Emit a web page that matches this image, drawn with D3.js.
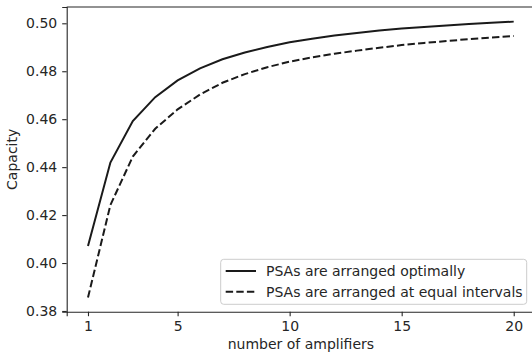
<!DOCTYPE html>
<html>
<head>
<meta charset="utf-8">
<script src="https://cdn.jsdelivr.net/npm/d3@7"></script>
<style>
  body { margin: 0; background: #fff; }
  svg text { font-family: "DejaVu Sans", sans-serif; fill: #262626; }
</style>
</head>
<body>
<div id="chart"></div>
<script>
// number of amplifiers
var amplifiers = d3.range(1, 21);
// capacity, PSAs arranged optimally
var optimal = [0.4071, 0.4419, 0.4592, 0.4692, 0.4762, 0.4812, 0.4850, 0.4878, 0.4901, 0.4921,
               0.4936, 0.4949, 0.4960, 0.4970, 0.4978, 0.4985, 0.4991, 0.4997, 0.5002, 0.5007];
// capacity, PSAs arranged at equal intervals
var equal = [0.3856, 0.4242, 0.4444, 0.4560, 0.4641, 0.4703, 0.4752, 0.4788, 0.4817, 0.4840,
             0.4858, 0.4873, 0.4886, 0.4898, 0.4909, 0.4918, 0.4926, 0.4934, 0.4941, 0.4947];
var xTicks = [1, 5, 10, 15, 20];
var yTicks = [0.38, 0.40, 0.42, 0.44, 0.46, 0.48, 0.50];
var legendLabels = ["PSAs are arranged optimally", "PSAs are arranged at equal intervals"];

var W = 532, H = 356;
var mLeft = 66.7, mTop = 7, mRight = 535, mBottom = 311.7;
var fontSize = 14;

var svg = d3.select("#chart").append("svg")
    .attr("width", W)
    .attr("height", H);

var x = d3.scaleLinear().domain([0.05, 20.95]).range([mLeft, mRight]);
var y = d3.scaleLinear().domain([0.3797, 0.5068]).range([mBottom, mTop]);

// axes
var xAxis = svg.append("g")
    .attr("transform", "translate(0," + mBottom + ")")
    .call(d3.axisBottom(x).tickValues(xTicks).tickSize(4.5).tickPadding(5).tickFormat(d3.format("d")));
var yAxis = svg.append("g")
    .attr("transform", "translate(" + mLeft + ",0)")
    .call(d3.axisLeft(y).tickValues(yTicks).tickSize(4.5).tickPadding(5).tickFormat(d3.format(".2f")));

[xAxis, yAxis].forEach(function(a) {
    a.attr("font-family", null).attr("font-size", null);
    a.select(".domain").attr("stroke", "#262626").attr("stroke-width", 1.1);
    a.selectAll(".tick line").attr("stroke", "#262626").attr("stroke-width", 1.1);
    a.selectAll(".tick text").style("font-size", fontSize + "px").attr("fill", "#262626");
});

// top spine
svg.append("line")
    .attr("x1", mLeft).attr("x2", mRight)
    .attr("y1", mTop).attr("y2", mTop)
    .attr("stroke", "#262626").attr("stroke-width", 1.1);

// lines
var line = d3.line()
    .x(function(d, i) { return x(amplifiers[i]); })
    .y(function(d) { return y(d); });

svg.append("path")
    .datum(optimal)
    .attr("d", line)
    .attr("fill", "none")
    .attr("stroke", "#1a1a1a")
    .attr("stroke-width", 2);

svg.append("path")
    .datum(equal)
    .attr("d", line)
    .attr("fill", "none")
    .attr("stroke", "#1a1a1a")
    .attr("stroke-width", 2)
    .attr("stroke-dasharray", "7.4,3.2");

// axis labels
svg.append("text")
    .attr("x", (mLeft + mRight) / 2)
    .attr("y", 349)
    .attr("text-anchor", "middle")
    .style("font-size", fontSize + "px")
    .text("number of amplifiers");

svg.append("text")
    .attr("transform", "translate(17," + ((mTop + mBottom) / 2) + ") rotate(-90)")
    .attr("text-anchor", "middle")
    .style("font-size", fontSize + "px")
    .text("Capacity");

// legend
var legend = svg.append("g");
legend.append("rect")
    .attr("x", 220.7).attr("y", 259.3)
    .attr("width", 306).attr("height", 45)
    .attr("rx", 3)
    .attr("fill", "#fff").attr("fill-opacity", 0.8)
    .attr("stroke", "#cccccc").attr("stroke-width", 1);

legendLabels.forEach(function(lbl, i) {
    var ly = 271 + i * 20.7;
    legend.append("line")
        .attr("x1", 225.7).attr("x2", 256)
        .attr("y1", ly).attr("y2", ly)
        .attr("stroke", "#1a1a1a").attr("stroke-width", 2)
        .attr("stroke-dasharray", i === 1 ? "7.4,3.2" : null);
    legend.append("text")
        .attr("x", 266)
        .attr("y", ly)
        .attr("dy", "0.35em")
        .style("font-size", fontSize + "px")
        .text(lbl);
});
</script>
</body>
</html>
